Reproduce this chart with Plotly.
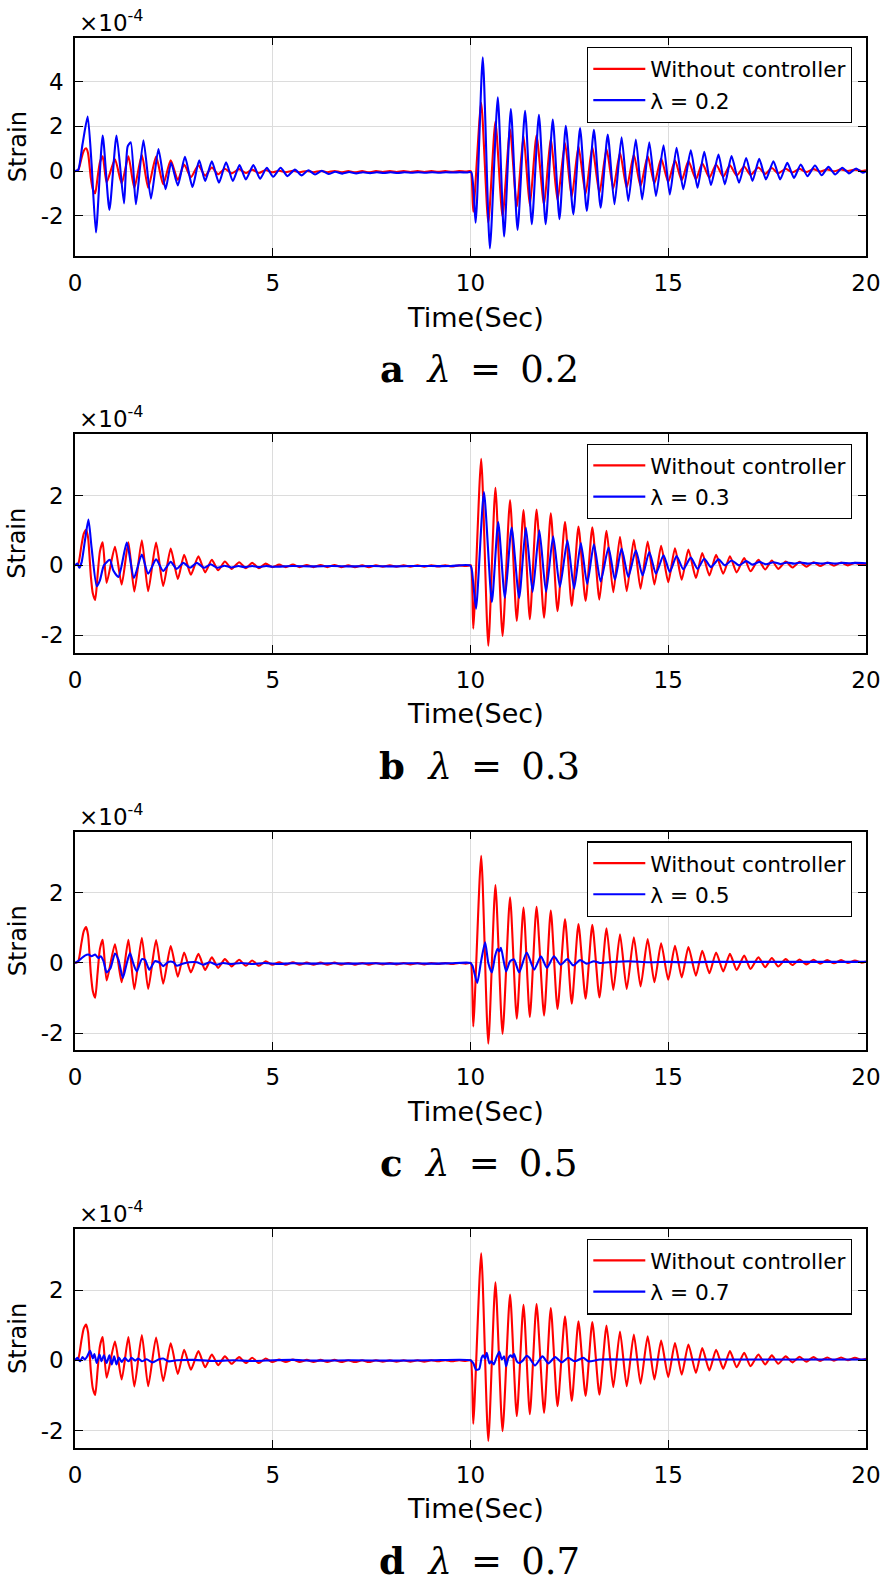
import plotly.graph_objects as go

# ------------------------------------------------------------------
# Data (strain in units of 1e-4, time in s)
# ------------------------------------------------------------------
x_ticks = [0, 5, 10, 15, 20]
panel_letters = ["a", "b", "c", "d"]
lambda_values = ["0.2", "0.3", "0.5", "0.7"]
y_ranges = [[-3.79, 5.97], [-2.5, 3.76], [-2.48, 3.74], [-2.5, 3.74]]
y_tickvals = [[-2, 0, 2, 4], [-2, 0, 2], [-2, 0, 2], [-2, 0, 2]]
y_ticktext = [["-2", "0", "2", "4"], ["-2", "0", "2"], ["-2", "0", "2"], ["-2", "0", "2"]]

# "Without controller" response (identical in all four panels)
red_points = [
    (0.00, 0.00), (0.08, 0.04), (0.16, 0.55), (0.22, 0.90), (0.28, 1.02), (0.33, 0.80),
    (0.40, -0.30), (0.45, -0.80), (0.51, -0.99), (0.57, -0.30), (0.63, 0.40), (0.70, 0.66),
    (0.80, -0.50), (1.01, 0.53), (1.18, -0.55), (1.35, 0.66), (1.50, -0.75), (1.69, 0.72),
    (1.85, -0.74), (2.05, 0.65), (2.23, -0.59), (2.42, 0.48), (2.60, -0.39), (2.76, 0.30),
    (2.93, -0.27), (3.12, 0.26), (3.29, -0.20), (3.46, 0.16), (3.62, -0.14), (3.79, 0.11),
    (3.96, -0.10), (4.15, 0.09), (4.32, -0.08), (4.48, 0.07), (4.65, -0.08), (4.82, 0.05),
    (4.99, -0.05), (5.16, 0.02), (5.33, -0.05), (5.51, 0.02), (5.68, -0.05), (5.86, 0.01),
    (6.03, -0.05), (6.21, 0.01), (6.38, -0.05), (6.56, 0.01), (6.73, -0.05), (6.91, 0.00),
    (7.08, -0.05), (7.26, 0.00), (7.43, -0.05), (7.61, 0.00), (7.78, -0.04), (7.96, 0.00),
    (8.13, -0.04), (8.31, 0.00), (8.48, -0.04), (8.66, 0.00), (8.83, -0.04), (9.01, 0.00),
    (9.18, -0.03), (9.36, 0.00), (9.53, -0.03), (9.71, 0.00), (9.88, -0.02), (9.97, 0.00),
    (10.01, 0.00),
    (10.07, -1.81), (10.27, 3.05), (10.45, -2.30), (10.63, 2.22), (10.81, -2.02), (11.00, 1.87),
    (11.17, -1.59), (11.34, 1.58), (11.50, -1.54), (11.67, 1.60), (11.86, -1.50), (12.03, 1.49),
    (12.20, -1.31), (12.39, 1.25), (12.56, -1.16), (12.73, 1.11), (12.91, -1.02), (13.08, 1.09),
    (13.26, -0.98), (13.44, 0.99), (13.61, -0.77), (13.78, 0.82), (13.95, -0.74), (14.13, 0.73),
    (14.30, -0.67), (14.48, 0.68), (14.65, -0.55), (14.82, 0.56), (15.00, -0.48), (15.17, 0.49),
    (15.34, -0.41), (15.51, 0.45), (15.70, -0.36), (15.86, 0.35), (16.04, -0.29), (16.21, 0.30),
    (16.39, -0.24), (16.56, 0.26), (16.73, -0.20), (16.92, 0.21), (17.08, -0.17), (17.28, 0.16),
    (17.45, -0.12), (17.62, 0.14), (17.78, -0.10), (17.97, 0.11), (18.14, -0.06), (18.32, 0.10),
    (18.49, -0.04), (18.67, 0.09), (18.84, -0.02), (19.02, 0.08), (19.19, -0.01), (19.37, 0.08),
    (19.54, 0.00), (19.72, 0.07), (19.89, 0.01), (20.00, 0.04),
]

# lambda = 0.2
blue_02_points = [
    (0.00, 0.00), (0.08, 0.05), (0.19, 1.20), (0.32, 2.44), (0.42, 0.30), (0.53, -2.74),
    (0.70, 1.59), (0.87, -1.73), (1.05, 1.59), (1.24, -1.44), (1.33, 1.10), (1.41, 1.29),
    (1.54, -1.48), (1.73, 1.38), (1.92, -1.23), (2.11, 0.99), (2.29, -0.81), (2.43, 0.37),
    (2.60, -0.64), (2.78, 0.64), (2.97, -0.71), (3.14, 0.49), (3.29, -0.44), (3.46, 0.44),
    (3.64, -0.52), (3.82, 0.40), (3.99, -0.44), (4.16, 0.27), (4.32, -0.37), (4.51, 0.27),
    (4.68, -0.34), (4.85, 0.15), (5.01, -0.25), (5.20, 0.15), (5.37, -0.22), (5.56, 0.07),
    (5.73, -0.19), (5.90, 0.04), (6.07, -0.15), (6.24, 0.02), (6.41, -0.13), (6.58, -0.03),
    (6.76, -0.11), (6.93, -0.04), (7.11, -0.10), (7.28, -0.05), (7.46, -0.09), (7.63, -0.05),
    (7.81, -0.08), (7.98, -0.05), (8.16, -0.08), (8.33, -0.05), (8.51, -0.07), (8.68, -0.05),
    (8.86, -0.07), (9.03, -0.05), (9.21, -0.07), (9.38, -0.05), (9.56, -0.06), (9.73, -0.05),
    (9.91, -0.06), (10.02, -0.05), (10.13, -2.30), (10.31, 5.08), (10.49, -3.45), (10.69, 3.30),
    (10.85, -2.92), (11.02, 2.77), (11.19, -2.62), (11.38, 2.70), (11.55, -2.37), (11.73, 2.52),
    (11.90, -2.37), (12.08, 2.30), (12.25, -2.15), (12.41, 2.03), (12.60, -1.93), (12.77, 1.93),
    (12.94, -1.78), (13.12, 1.85), (13.29, -1.63), (13.47, 1.63), (13.64, -1.48), (13.82, 1.51),
    (13.99, -1.33), (14.18, 1.41), (14.34, -1.26), (14.52, 1.29), (14.69, -1.11), (14.88, 1.16),
    (15.04, -1.04), (15.21, 1.04), (15.38, -0.81), (15.57, 0.93), (15.74, -0.74), (15.91, 0.86),
    (16.08, -0.62), (16.27, 0.74), (16.43, -0.59), (16.60, 0.67), (16.79, -0.52), (16.97, 0.59),
    (17.13, -0.44), (17.30, 0.55), (17.47, -0.37), (17.66, 0.44), (17.83, -0.37), (18.01, 0.37),
    (18.18, -0.30), (18.35, 0.30), (18.52, -0.22), (18.71, 0.25), (18.88, -0.18), (19.05, 0.19),
    (19.22, -0.15), (19.40, 0.15), (19.57, -0.10), (19.75, 0.12), (19.92, -0.07), (20.00, 0.00),
]

# lambda = 0.3
blue_03_points = [
    (0.00, 0.00), (0.06, 0.05), (0.11, -0.07), (0.17, 0.10), (0.25, 0.70), (0.34, 1.31),
    (0.42, 0.50), (0.55, -0.60), (0.63, -0.43), (0.73, 0.00), (0.88, 0.16), (0.97, -0.15),
    (1.10, -0.33), (1.31, 0.65), (1.49, -0.36), (1.69, 0.31), (1.85, -0.24), (2.05, 0.17),
    (2.23, -0.16), (2.42, 0.10), (2.57, -0.10), (2.74, 0.07), (2.91, -0.07), (3.08, 0.07),
    (3.26, -0.07), (3.43, 0.03), (3.60, -0.07), (3.78, -0.01), (3.95, -0.06), (4.13, -0.02),
    (4.30, -0.05), (4.48, -0.02), (4.65, -0.05), (4.83, -0.02), (5.00, -0.04), (5.50, -0.02),
    (6.00, -0.03), (6.50, -0.02), (7.00, -0.03), (7.50, -0.02), (8.00, -0.03), (8.50, -0.02),
    (9.00, -0.02), (9.50, -0.02), (10.00, -0.01), (10.06, -0.40), (10.14, -1.24), (10.34, 2.10),
    (10.54, -1.05), (10.70, 1.24), (10.87, -0.93), (11.04, 1.08), (11.23, -0.93), (11.40, 1.08),
    (11.57, -0.76), (11.74, 1.00), (11.91, -0.76), (12.09, 0.83), (12.26, -0.62), (12.45, 0.72),
    (12.62, -0.67), (12.79, 0.64), (12.95, -0.53), (13.12, 0.60), (13.29, -0.46), (13.49, 0.51),
    (13.65, -0.41), (13.82, 0.48), (13.99, -0.33), (14.18, 0.43), (14.35, -0.29), (14.52, 0.38),
    (14.69, -0.24), (14.88, 0.29), (15.04, -0.19), (15.21, 0.27), (15.38, -0.11), (15.57, 0.22),
    (15.74, -0.10), (15.91, 0.19), (16.08, -0.05), (16.27, 0.17), (16.43, 0.00), (16.60, 0.14),
    (16.79, 0.00), (16.97, 0.12), (17.13, 0.02), (17.30, 0.10), (17.47, 0.03), (17.66, 0.09),
    (17.83, 0.04), (18.01, 0.08), (18.18, 0.05), (18.35, 0.08), (18.52, 0.05), (18.71, 0.07),
    (18.88, 0.05), (19.05, 0.07), (19.22, 0.05), (19.40, 0.07), (19.57, 0.06), (19.75, 0.07),
    (20.00, 0.06),
]

# lambda = 0.5
blue_05_points = [
    (0.00, 0.00), (0.08, 0.05), (0.17, 0.14), (0.25, 0.21), (0.34, 0.24), (0.42, 0.19),
    (0.51, 0.24), (0.59, 0.14), (0.65, 0.19), (0.72, 0.05), (0.80, -0.27), (0.90, -0.14),
    (1.01, 0.27), (1.10, 0.09), (1.21, -0.43), (1.31, 0.00), (1.39, 0.28), (1.47, 0.00),
    (1.56, -0.24), (1.69, 0.11), (1.77, 0.09), (1.88, -0.19), (2.02, 0.05), (2.15, 0.00),
    (2.23, -0.09), (2.36, 0.03), (2.49, 0.02), (2.57, -0.08), (2.72, -0.02), (2.89, 0.02),
    (3.08, 0.02), (3.24, -0.05), (3.41, 0.02), (3.58, -0.05), (3.75, 0.00), (3.92, -0.03),
    (4.20, 0.00), (4.50, -0.03), (4.80, 0.00), (5.10, -0.03), (5.50, -0.01), (6.00, -0.02),
    (6.50, -0.01), (7.00, -0.02), (7.50, -0.01), (8.00, -0.02), (8.50, -0.01), (9.00, -0.02),
    (9.50, -0.01), (10.00, 0.00), (10.05, -0.08), (10.17, -0.57), (10.26, 0.00), (10.37, 0.59),
    (10.45, 0.00), (10.54, -0.27), (10.62, 0.19), (10.68, 0.40), (10.73, 0.33), (10.77, 0.43),
    (10.90, -0.24), (11.00, 0.05), (11.10, 0.10), (11.23, -0.27), (11.42, 0.30), (11.61, -0.19),
    (11.78, 0.19), (11.93, -0.14), (12.11, 0.19), (12.28, -0.05), (12.45, 0.11), (12.60, -0.07),
    (12.77, 0.08), (12.94, -0.02), (13.12, 0.05), (13.27, 0.00), (13.60, 0.03), (14.00, 0.05),
    (14.50, 0.02), (15.00, 0.03), (15.50, 0.02), (16.00, 0.03), (17.00, 0.03), (18.00, 0.03),
    (19.00, 0.03), (20.00, 0.03),
]

# lambda = 0.7
blue_07_points = [
    (0.00, 0.00), (0.06, 0.07), (0.13, -0.03), (0.19, 0.09), (0.25, 0.02), (0.31, 0.11),
    (0.38, 0.27), (0.45, 0.05), (0.49, 0.18), (0.55, -0.08), (0.62, 0.16), (0.67, -0.03),
    (0.73, 0.14), (0.80, -0.08), (0.87, 0.14), (0.93, -0.12), (0.99, 0.11), (1.05, -0.12),
    (1.11, 0.08), (1.18, -0.05), (1.26, 0.07), (1.35, -0.03), (1.43, 0.07), (1.52, -0.01),
    (1.60, 0.05), (1.69, -0.03), (1.81, 0.03), (1.96, -0.06), (2.11, 0.02), (2.23, 0.05),
    (2.36, -0.03), (2.57, 0.00), (3.00, 0.01), (3.50, -0.02), (4.00, 0.00), (4.50, -0.02),
    (5.00, 0.00), (5.50, 0.01), (6.00, -0.01), (7.00, 0.00), (8.00, -0.01), (9.00, 0.00),
    (10.00, 0.00), (10.07, -0.08), (10.14, -0.27), (10.22, -0.25), (10.28, 0.07), (10.32, 0.14),
    (10.37, 0.05), (10.41, 0.21), (10.48, -0.09), (10.53, -0.03), (10.59, -0.12), (10.66, 0.09),
    (10.73, 0.24), (10.79, 0.02), (10.85, 0.11), (10.90, -0.17), (10.96, 0.07), (11.02, 0.14),
    (11.06, 0.08), (11.10, 0.18), (11.17, -0.03), (11.23, -0.08), (11.32, -0.01), (11.42, 0.13),
    (11.49, 0.07), (11.63, -0.15), (11.82, 0.11), (11.97, -0.09), (12.14, 0.09), (12.31, -0.06),
    (12.47, 0.07), (12.64, -0.03), (12.85, 0.07), (12.98, -0.03), (13.27, 0.02), (14.00, 0.02),
    (15.00, 0.02), (16.00, 0.02), (17.00, 0.02), (18.00, 0.02), (19.00, 0.02), (20.00, 0.02),
]

blue_series = [blue_02_points, blue_03_points, blue_05_points, blue_07_points]

# ------------------------------------------------------------------
# Layout geometry (pixels of the 886 x 1595 page)
# ------------------------------------------------------------------
W, H = 886, 1595
ML, MR, MT, MB = 75, 20, 37, 147
panel_px = [(37.5, 256.0), (434.0, 652.7), (831.7, 1050.0), (1229.0, 1448.0)]


def fy(px):
    return (H - MB - px) / (H - MT - MB)


def fx(px):
    return (px - ML) / (W - ML - MR)


SANS = "DejaVu Sans"
SERIF = "DejaVu Serif"
RED = "#ff0000"
BLUE = "#0000ff"
GRID = "#dcdcdc"

fig = go.Figure()
layout = dict(
    template="none",
    width=W, height=H,
    margin=dict(l=ML, r=MR, t=MT, b=MB, pad=0, autoexpand=False),
    paper_bgcolor="white", plot_bgcolor="white",
    font=dict(family=SANS, color="black"),
    annotations=[],
)

for i in range(4):
    sfx = "" if i == 0 else str(i + 1)
    xref, yref = "x" + sfx, "y" + sfx
    leg = "legend" + sfx
    top, bot = panel_px[i]

    t_r = [p[0] for p in red_points]
    s_r = [p[1] for p in red_points]
    t_b = [p[0] for p in blue_series[i]]
    s_b = [p[1] for p in blue_series[i]]

    fig.add_trace(go.Scatter(x=t_r, y=s_r, mode="lines", name="Without controller",
                             line=dict(color=RED, width=2.1, shape="spline", smoothing=0.6),
                             xaxis=xref, yaxis=yref, legend=leg, showlegend=True))
    fig.add_trace(go.Scatter(x=t_b, y=s_b, mode="lines", name="λ = " + lambda_values[i],
                             line=dict(color=BLUE, width=2.1, shape="spline", smoothing=0.6),
                             xaxis=xref, yaxis=yref, legend=leg, showlegend=True))

    axis_common = dict(
        ticks="inside", ticklen=8, tickwidth=1.3, tickcolor="black",
        showline=True, linecolor="black", linewidth=1.5, mirror="allticks",
        showgrid=True, gridcolor=GRID, gridwidth=1.3, zeroline=False,
        automargin=False, ticklabeloverflow="allow",
        tickfont=dict(family=SANS, size=23, color="black"),
    )
    layout["xaxis" + sfx] = dict(axis_common, domain=[0, 1], anchor=yref, range=[0, 20],
                                 tickvals=x_ticks, ticktext=[str(v) for v in x_ticks],
                                 ticklabelstandoff=6)
    layout["yaxis" + sfx] = dict(axis_common, domain=[fy(bot), fy(top)], anchor=xref,
                                 range=y_ranges[i], tickvals=y_tickvals[i],
                                 ticktext=y_ticktext[i], ticklabelstandoff=5)

    layout[leg] = dict(
        x=fx(852), y=fy(top + 9.5), xref="paper", yref="paper",
        xanchor="right", yanchor="top",
        bgcolor="white", bordercolor="black", borderwidth=1.3,
        font=dict(family=SANS, size=21.7, color="black"),
        itemwidth=52, tracegroupgap=0,
    )

    layout["annotations"] += [
        dict(text="×10<sup>-4</sup>", x=fx(77), y=fy(top), xref="paper", yref="paper",
             xanchor="left", yanchor="bottom", showarrow=False,
             font=dict(family=SANS, size=23, color="black")),
        dict(text="Time(Sec)", x=fx(475.5), y=fy(bot + 61), xref="paper", yref="paper",
             xanchor="center", yanchor="middle", showarrow=False,
             font=dict(family=SANS, size=27, color="black")),
        dict(text="Strain", x=fx(17.5), y=fy((top + bot) / 2), xref="paper", yref="paper",
             xanchor="center", yanchor="middle", textangle=-90, showarrow=False,
             font=dict(family=SANS, size=24, color="black")),
        dict(text="<b>" + panel_letters[i] + "</b>\u00a0\u00a0<i>λ</i>\u00a0\u2009=\u00a0\u2009"
                  + lambda_values[i],
             x=fx(479), y=fy(bot + 113), xref="paper", yref="paper",
             xanchor="center", yanchor="middle", showarrow=False,
             font=dict(family=SERIF, size=37, color="black")),
    ]

fig.update_layout(**layout)
fig.write_html("out.html", config={"displayModeBar": False},
               post_script="document.body.style.margin='0px';")
